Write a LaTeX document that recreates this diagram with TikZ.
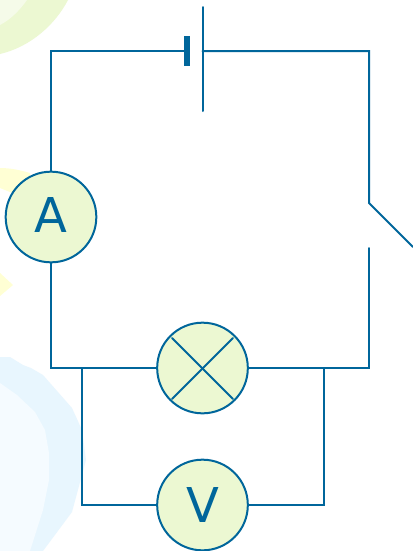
\documentclass[tikz,border=0pt]{standalone}
\usepackage{fontspec}
\setmainfont{DejaVu Sans}
\definecolor{wire}{HTML}{00669B}
\definecolor{meterfill}{HTML}{ECF8D2}
\definecolor{blobgreen}{HTML}{ECF8D2}
\definecolor{blobgreenlight}{HTML}{F5FBE9}
\definecolor{blobyellow}{HTML}{FFFFD4}
\definecolor{blobblue}{HTML}{E8F6FE}
\definecolor{blobbluelight}{HTML}{F5FBFF}
\tikzset{
  x=0.75pt,y=-0.75pt,
  wireline/.style={draw=wire,line width=1.5pt,line cap=round,line join=miter},
  meter/.style={circle,draw=wire,fill=meterfill,line width=1.5pt,minimum size=68pt,inner sep=0pt,text=wire,font=\fontsize{36pt}{36pt}\selectfont}
}
\begin{document}
\begin{tikzpicture}
\useasboundingbox (0,0) rectangle (413,551);
\fill[white] (0,0) rectangle (413,551);
\begin{scope}
\clip (0,0) rectangle (413,551);
% background blobs
\fill[blobgreen] (68,0) .. controls (55,25) and (30,47) .. (0,54) -- (0,0) -- cycle;
\fill[blobgreenlight] (27,0) .. controls (20,10) and (10,20) .. (0,25) -- (0,0) -- cycle;
\fill[blobyellow] (0,168) .. controls (10,168) and (20,170) .. (30,173) -- (30,200) -- (0,188) -- cycle;
\fill[blobyellow] (0,273) -- (13,285) -- (0,296) -- cycle;
\fill[blobblue] (0,357) -- (10,357) -- (23,365) -- (31,368) -- (43,375) -- (72,408) -- (82,430) -- (86,460) -- (72,512) -- (43,551) -- (0,551) -- cycle;
\fill[blobbluelight] (0,383) -- (17,395) -- (35,412) -- (45,430) -- (49,453) -- (49,480) -- (43,510) -- (30,551) -- (0,551) -- cycle;
\end{scope}
% meters
\node[meter] (ammeter) at (51,217) {\raisebox{2.6pt}{A}};
\node[meter] (lamp) at (202.5,368) {};
\node[meter] (voltmeter) at (202.5,505) {\raisebox{-4.9pt}{V}};
% corners
\coordinate (tl) at (51,51);
\coordinate (tr) at (369,51);
\coordinate (bl) at (51,368);
\coordinate (br) at (369,368);
\coordinate (swtop) at (369,203);
\coordinate (swend) at (413,247);
\coordinate (swbottom) at (369,248);
\coordinate (ja) at (82,368);
\coordinate (jb) at (324,368);
\coordinate (vl) at (82,505);
\coordinate (vr) at (324,505);
\coordinate (cellshort) at (187,51);
\coordinate (celllong) at (202.5,51);
\coordinate (longtop) at (202.5,7);
\coordinate (longbottom) at (202.5,111);
\coordinate (shorttop) at (187,36);
\coordinate (shortbottom) at (187,66);
\coordinate (xa) at (172,338);
\coordinate (xb) at (233,399);
\coordinate (xc) at (172,399);
\coordinate (xd) at (233,338);
% wires
\draw[wireline] (ammeter.north) -- (tl) -- (cellshort);
\draw[wireline] (celllong) -- (tr) -- (swtop) -- (swend);
\draw[wireline] (swbottom) -- (br) -- (lamp.east);
\draw[wireline] (ammeter.south) -- (bl) -- (lamp.west);
\draw[wireline] (ja) -- (vl) -- (voltmeter.west);
\draw[wireline] (jb) -- (vr) -- (voltmeter.east);
% cell
\draw[wireline] (longtop) -- (longbottom);
\draw[draw=wire,line width=4.5pt] (shorttop) -- (shortbottom);
% lamp cross
\draw[wireline] (xa) -- (xb);
\draw[wireline] (xc) -- (xd);
\end{tikzpicture}
\end{document}
